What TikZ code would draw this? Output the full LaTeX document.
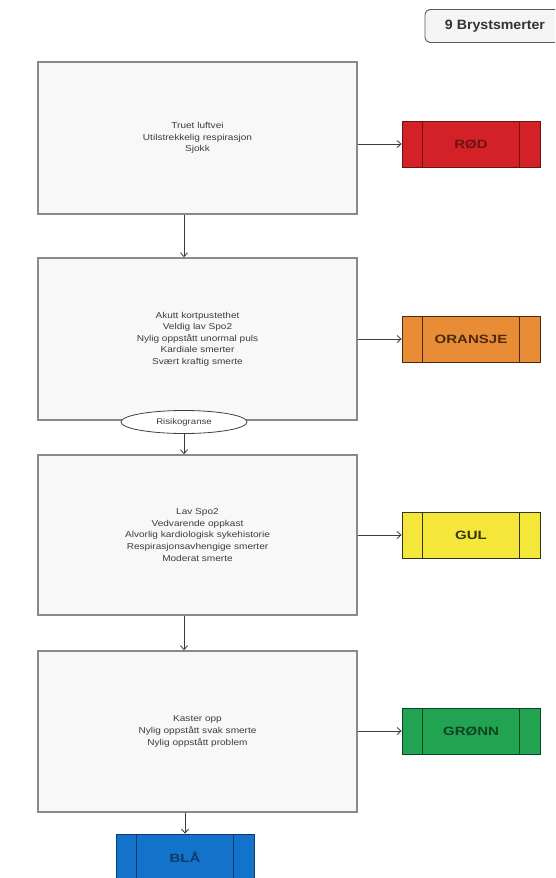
\documentclass[tikz,border=0pt]{standalone}
\usepackage{fontspec}
\setmainfont{Liberation Sans}
\newfontfamily\bodyfont[FakeStretch=1.17]{Liberation Sans}
\newfontfamily\tagfont[FakeStretch=1.25]{Liberation Sans}
\newfontfamily\titlefont[FakeStretch=1.05]{Liberation Sans}
\usetikzlibrary{arrows.meta,shapes.geometric,calc}
\definecolor{boxborder}{HTML}{8A8A8A}
\definecolor{boxfill}{HTML}{F8F8F8}
\definecolor{txt}{HTML}{3C3C3C}
\definecolor{conn}{HTML}{3A3A3A}
\definecolor{redf}{HTML}{D42128}\definecolor{redd}{HTML}{6E1214}
\definecolor{oraf}{HTML}{E88D36}\definecolor{orad}{HTML}{4A2A10}
\definecolor{yelf}{HTML}{F4E73A}\definecolor{yeld}{HTML}{34340E}
\definecolor{grnf}{HTML}{22A352}\definecolor{grnd}{HTML}{0E4324}
\definecolor{bluf}{HTML}{1372C9}\definecolor{blud}{HTML}{0B3A70}
\tikzset{
  bigbox/.style={draw=boxborder, line width=1.4pt, fill=boxfill, minimum width=319pt,
    inner sep=0pt, align=center, text=txt, font=\bodyfont\fontsize{8.6}{11.6}\selectfont},
  tagbox/.style={draw=#1, line width=0.8pt, minimum width=138pt, minimum height=46pt,
    inner sep=0pt, font=\tagfont\bfseries\fontsize{12}{14}\selectfont,
    path picture={\draw[#1, line width=0.8pt]
      ([xshift=20pt]path picture bounding box.south west) -- ([xshift=20pt]path picture bounding box.north west)
      ([xshift=-21pt]path picture bounding box.south east) -- ([xshift=-21pt]path picture bounding box.north east);}},
  conn/.style={draw=conn, line width=0.8pt, -{Straight Barb[length=4pt,width=7pt]}},
}
\begin{document}
\begin{tikzpicture}[x=1pt,y=-1pt]
\useasboundingbox (0,0) rectangle (555,878);
\clip (0,0) rectangle (555,878);
\fill[white] (0,0) rectangle (555,878);
% title
\node[draw=black!65, line width=0.9pt, fill=black!4, rounded corners=5pt, minimum width=150pt,
  minimum height=33pt, inner sep=0pt, text=black!80, font=\titlefont\bfseries\fontsize{13.5}{15}\selectfont]
  (title) at (500,26) {\hspace*{-10pt}9 Brystsmerter};
% big boxes
\node[bigbox, minimum height=152pt] (b1) at (197.5,138) {Truet luftvei\\Utilstrekkelig respirasjon\\Sjokk};
\node[bigbox, minimum height=162pt] (b2) at (197.5,339) {Akutt kortpustethet\\Veldig lav Spo2\\Nylig oppstått unormal puls\\Kardiale smerter\\Svært kraftig smerte};
\node[bigbox, minimum height=160pt] (b3) at (197.5,535) {Lav Spo2\\Vedvarende oppkast\\Alvorlig kardiologisk sykehistorie\\Respirasjonsavhengige smerter\\Moderat smerte};
\node[bigbox, minimum height=161pt] (b4) at (197.5,731.5) {Kaster opp\\Nylig oppstått svak smerte\\Nylig oppstått problem};
% ellipse
\node[ellipse, draw=black!75, line width=0.8pt, fill=white, minimum width=126pt, minimum height=23pt,
  inner sep=0pt, text=txt, font=\bodyfont\fontsize{8.2}{10}\selectfont] (ell) at (184,422) {Risikogranse};
% tag boxes
\node[tagbox=redd, fill=redf, text=redd] (rod) at (471,144) {RØD};
\node[tagbox=orad, fill=oraf, text=orad] (ora) at (471,339) {ORANSJE};
\node[tagbox=yeld, fill=yelf, text=yeld] (gul) at (471,535) {GUL};
\node[tagbox=grnd, fill=grnf, text=grnd] (grn) at (471,731) {GRØNN};
\node[tagbox=blud, fill=bluf, text=blud] (bla) at (185,857) {BLÅ};
% connectors
\draw[conn] (rod.west -| b1.east) -- (rod.west);
\draw[conn] (ora.west -| b2.east) -- (ora.west);
\draw[conn] (gul.west -| b3.east) -- (gul.west);
\draw[conn] (grn.west -| b4.east) -- (grn.west);
\draw[conn] (b1.south -| ell.center) -- (b2.north -| ell.center);
\draw[conn] (ell.south) -- (b3.north -| ell.south);
\draw[conn] (b3.south -| ell.center) -- (b4.north -| ell.center);
\draw[conn] (b4.south -| bla.north) -- (bla.north);
\end{tikzpicture}
\end{document}
